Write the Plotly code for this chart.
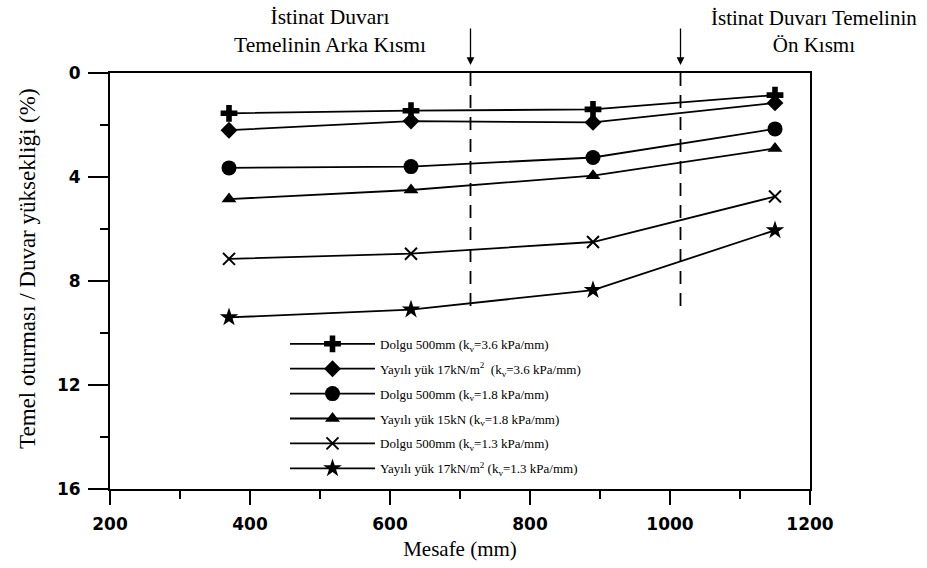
import plotly.graph_objects as go

# Data
distance_mm = [370, 630, 890, 1150]
series_names = [
    "Dolgu 500mm (k<sub>v</sub>=3.6 kPa/mm)",
    "Yayılı yük 17kN/m<sup>2</sup>  (k<sub>v</sub>=3.6 kPa/mm)",
    "Dolgu 500mm (k<sub>v</sub>=1.8 kPa/mm)",
    "Yayılı yük 15kN (k<sub>v</sub>=1.8 kPa/mm)",
    "Dolgu 500mm (k<sub>v</sub>=1.3 kPa/mm)",
    "Yayılı yük 17kN/m<sup>2</sup> (k<sub>v</sub>=1.3 kPa/mm)",
]
fill_36 = [1.55, 1.45, 1.40, 0.85]
load17_36 = [2.20, 1.85, 1.90, 1.15]
fill_18 = [3.65, 3.60, 3.25, 2.15]
load15_18 = [4.85, 4.50, 3.95, 2.90]
fill_13 = [7.15, 6.95, 6.50, 4.75]
load17_13 = [9.40, 9.10, 8.35, 6.05]
section_marks = [715, 1015]
section_depth = 9.0
section_labels = ["İstinat Duvarı<br>Temelinin Arka Kısmı",
                  "İstinat Duvarı Temelinin<br>Ön Kısmı"]
x_ticks = [200, 400, 600, 800, 1000, 1200]
y_ticks = [0, 4, 8, 12, 16]
y_title = "Temel oturması / Duvar yüksekliği (%)"
x_title = "Mesafe (mm)"

series_values = [fill_36, load17_36, fill_18, load15_18, fill_13, load17_13]
symbols = ["cross", "diamond", "circle", "triangle-up", "x-thin", "star"]
sizes = [14, 13, 15, 13, 12, 14]

serif = "Liberation Serif"
tickfont = dict(family="DejaVu Sans", size=17, color="black", weight="bold")

fig = go.Figure()
for i, (name, vals) in enumerate(zip(series_names, series_values)):
    marker = dict(symbol=symbols[i], size=sizes[i], color="black")
    if symbols[i] == "x-thin":
        marker["line"] = dict(color="black", width=2)
    fig.add_trace(go.Scatter(
        x=distance_mm, y=vals, mode="lines+markers", name=name,
        legendgroup=f"g{i}",
        line=dict(color="black", width=1.8), marker=marker,
    ))

for xm in section_marks:
    fig.add_shape(type="line", x0=xm, x1=xm, y0=0, y1=section_depth,
                  xref="x", yref="y",
                  line=dict(color="black", width=1.8, dash="13px,9px"))
    fig.add_annotation(x=xm, y=0, xref="x", yref="y", text="", showarrow=True,
                       ax=0, ay=-46, arrowhead=2, arrowsize=1.2, arrowwidth=1.3,
                       arrowcolor="black", standoff=8)

# label centres (px): 330 and 814 on a 110..810 plot
label_pos = [(330 - 110) / 700, (814 - 110) / 700]
label_sizes = [21.5, 21]
for txt, px, fs in zip(section_labels, label_pos, label_sizes):
    fig.add_annotation(text=txt, x=px, y=1.0, xref="paper", yref="paper",
                       xanchor="center", yanchor="middle", yshift=42, showarrow=False,
                       font=dict(family=serif, size=fs, color="black"))

# y-axis title as a rotated annotation (centred slightly above plot centre)
fig.add_annotation(text=y_title, x=(27 - 110) / 700, y=(489 - 269) / 416,
                   xref="paper", yref="paper", xanchor="center", yanchor="middle",
                   textangle=-90, showarrow=False,
                   font=dict(family=serif, size=23, color="black"))

fig.update_layout(
    width=927, height=568,
    margin=dict(l=110, r=117, t=73, b=79),
    paper_bgcolor="white", plot_bgcolor="white",
    showlegend=True,
    legend=dict(x=0.25, y=0.385, xanchor="left", yanchor="top",
                bgcolor="rgba(255,255,255,0)",
                font=dict(family=serif, size=13, color="black"),
                tracegroupgap=5, itemwidth=85),
    xaxis=dict(range=[200, 1200], tickvals=x_ticks, showgrid=False, zeroline=False,
               showline=True, linecolor="black", linewidth=2, mirror=True,
               ticks="outside", ticklen=14, tickwidth=2, tickcolor="black",
               minor=dict(dtick=100, ticks="outside", ticklen=8, tickwidth=1.5, tickcolor="black"),
               tickfont=tickfont, ticklabelstandoff=5, automargin=False,
               title=dict(text=x_title, font=dict(family=serif, size=21, color="black"), standoff=8)),
    yaxis=dict(range=[16, 0], tickvals=y_ticks, showgrid=False, zeroline=False,
               showline=True, linecolor="black", linewidth=2, mirror=True,
               ticks="outside", ticklen=20, tickwidth=1.5, tickcolor="black",
               minor=dict(dtick=2, ticks="outside", ticklen=8, tickwidth=1.5, tickcolor="black"),
               tickfont=tickfont, ticklabelstandoff=4, automargin=False),
)

fig.write_html("out.html", config={"displayModeBar": False},
               post_script="document.body.style.margin='0';document.body.style.overflow='hidden';")
